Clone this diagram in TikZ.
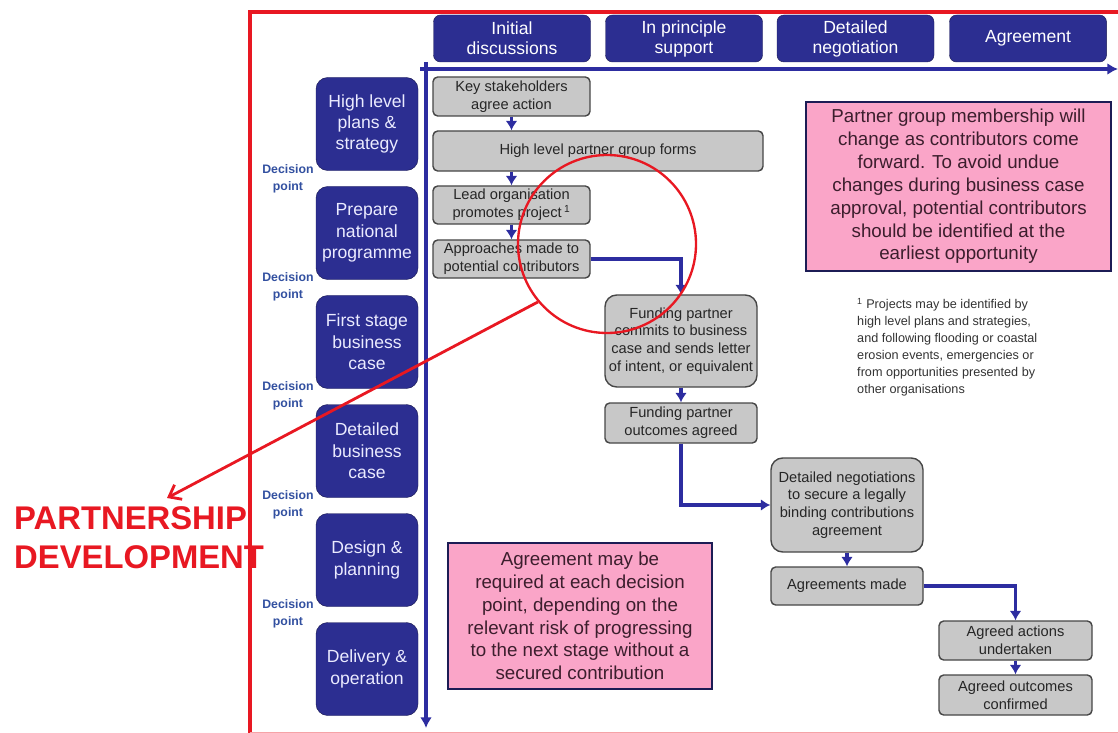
\documentclass[tikz,border=0pt]{standalone}
\usepackage{fontspec}
\setmainfont{Liberation Sans}
\usetikzlibrary{arrows.meta}

\definecolor{navy}{RGB}{44,46,145}
\definecolor{navyline}{RGB}{28,28,85}
\definecolor{flowblue}{RGB}{45,45,160}
\definecolor{boxgray}{RGB}{200,200,200}
\definecolor{boxline}{RGB}{70,70,70}
\definecolor{notepink}{RGB}{250,165,200}
\definecolor{notetext}{RGB}{60,30,45}
\definecolor{markred}{RGB}{232,24,34}
\definecolor{dpblue}{RGB}{50,80,160}

\tikzset{
	phase/.style={draw=navyline,fill=navy,text=white,rounded corners=6pt,align=center,
		minimum width=4.71cm,minimum height=1.41cm,inner sep=0pt,font=\fontsize{15}{17}\selectfont},
	stage/.style={draw=navyline,fill=navy,text=white!92!blue,rounded corners=10pt,align=center,
		minimum width=3.06cm,minimum height=2.79cm,inner sep=0pt,font=\fontsize{15}{18.2}\selectfont},
	decision/.style={text=dpblue,align=center,inner sep=0pt,font=\bfseries\fontsize{10.5}{14.5}\selectfont},
	grey/.style={draw=boxline,fill=boxgray,line width=1.2pt,rounded corners=4pt,align=center,
		inner sep=0pt,text=black!85,font=\fontsize{12.5}{15.2}\selectfont},
	note/.style={draw=navyline,fill=notepink,line width=1.8pt,align=center,inner sep=0pt,
		text=notetext,font=\fontsize{16}{19.5}\selectfont},
	flow/.style={draw=flowblue,line width=3pt,-{Latex[length=8pt,width=10pt]}},
	axis/.style={draw=flowblue,line width=3.4pt,-{Latex[length=9pt,width=10pt]}},
	redmark/.style={draw=markred,line width=2pt}
}

\begin{document}
\begin{tikzpicture}[x=0.03cm,y=-0.03cm]
	\useasboundingbox (0,0) rectangle (1118,733); % the whole slide
	\draw[redmark,line width=2.8pt] (250,733) -- (250,12) -- (1118,12);% red frame
	\draw[markred!40,line width=1pt] (250,732.5) -- (1118,732.5);
		\coordinate (TimeMin)  at (420,69);
		\coordinate (TimeMax)  at (1118,69);
		\coordinate (StageMin) at (426,62);
		\coordinate (StageMax) at (426,728);
		\draw[axis] (TimeMin) -- (TimeMax);% time axis
		\draw[axis] (StageMin) -- (StageMax);% stage axis

		% phases along the top
		\foreach \X/\Name/\Text in {512/ph1/Initial\\discussions,684/ph2/In principle\\support,855.5/ph3/Detailed\\negotiation,1028/ph4/Agreement}{\node[phase] (\Name) at (\X,38.5) {\Text};}

		% stages down the side
		\foreach \Y/\Name/\Text in {124/st1/High level\\plans \&\\strategy,233/st2/Prepare\\national\\programme,342/st3/First stage\\business\\case,451/st4/Detailed\\business\\case,560/st5/Design \&\\planning,669/st6/Delivery \&\\operation}{\node[stage] (\Name) at (367,\Y) {\Text};}
		\foreach \Y [count=\i] in {178.5,287,396,505,614}{\node[decision] (dp\i) at (288,\Y) {Decision\\point};}

		% the process boxes
		\node[grey,minimum width=4.71cm,minimum height=1.17cm] (key) at (511.5,96.5) {Key stakeholders\\agree action};
		\node[grey,minimum width=9.9cm,minimum height=1.2cm] (group) at (598,151) {High level partner group forms};
		\node[grey,minimum width=4.71cm,minimum height=1.14cm] (lead) at (511.5,205) {Lead organisation\\promotes project\,\textsuperscript{1}};
		\node[grey,minimum width=4.71cm,minimum height=1.14cm] (approach) at (511.5,259) {Approaches made to\\potential contributors};
		\node[grey,rounded corners=10pt,minimum width=4.56cm,minimum height=2.76cm] (commit) at (681,341) {Funding partner\\commits to business\\case and sends letter\\of intent, or equivalent};
		\node[grey,minimum width=4.56cm,minimum height=1.2cm] (outcome) at (681,423) {Funding partner\\outcomes agreed};
		\node[grey,rounded corners=10pt,minimum width=4.56cm,minimum height=2.82cm] (negot) at (847,505) {Detailed negotiations\\to secure a legally\\binding contributions\\agreement};
		\node[grey,minimum width=4.56cm,minimum height=1.14cm] (made) at (847,586) {Agreements made};
		\node[grey,minimum width=4.59cm,minimum height=1.17cm] (actions) at (1015.5,640.5) {Agreed actions\\undertaken};
		\node[grey,minimum width=4.59cm,minimum height=1.2cm] (confirmed) at (1015.5,695) {Agreed outcomes\\confirmed};

		\draw[flow] (key.south) -- (key.south |- group.north);
		\draw[flow] (key.south |- group.south) -- (lead.north);
		\draw[flow] (lead.south) -- (approach.north);
		\draw[flow] (approach.east) -| (commit.north);
		\draw[flow] (commit.south) -- (outcome.north);
		\draw[flow] (outcome.south) |- (negot.west);
		\draw[flow] (negot.south) -- (made.north);
		\draw[flow] (made.east) -| (actions.north);
		\draw[flow] (actions.south) -- (confirmed.north);

		% notes
		\node[note,minimum width=9.15cm,minimum height=5.07cm] (membership) at (958.5,186.5) {Partner group membership will\\change as contributors come\\forward. To avoid undue\\changes during business case\\approval, potential contributors\\should be identified at the\\earliest opportunity};
		\node[note,minimum width=7.92cm,minimum height=4.38cm] (agreement) at (580,616) {Agreement may be\\required at each decision\\point, depending on the\\relevant risk of progressing\\to the next stage without a\\secured contribution};
		\node[anchor=north west,align=left,inner sep=0pt,text=black!80,font=\fontsize{10.8}{14.5}\selectfont] (footnote) at (857,298) {\textsuperscript{1} Projects may be identified by\\high level plans and strategies,\\and following flooding or coastal\\erosion events, emergencies or\\from opportunities presented by\\other organisations};

		% red highlight
		\node[redmark,circle,minimum size=5.34cm,inner sep=0pt] (lens) at (607,244) {};
		\coordinate (pdtip) at (167,498);
		\node[anchor=north west,align=left,inner sep=0pt,text=markred,font=\bfseries\fontsize{28}{34}\selectfont] (pdlabel) at (14,506) {PARTNERSHIP\\DEVELOPMENT};
		\draw[redmark,line width=2.4pt,-{Straight Barb[length=9pt,width=14pt]}] (lens.220) -- (pdtip);
\end{tikzpicture}
\end{document}
